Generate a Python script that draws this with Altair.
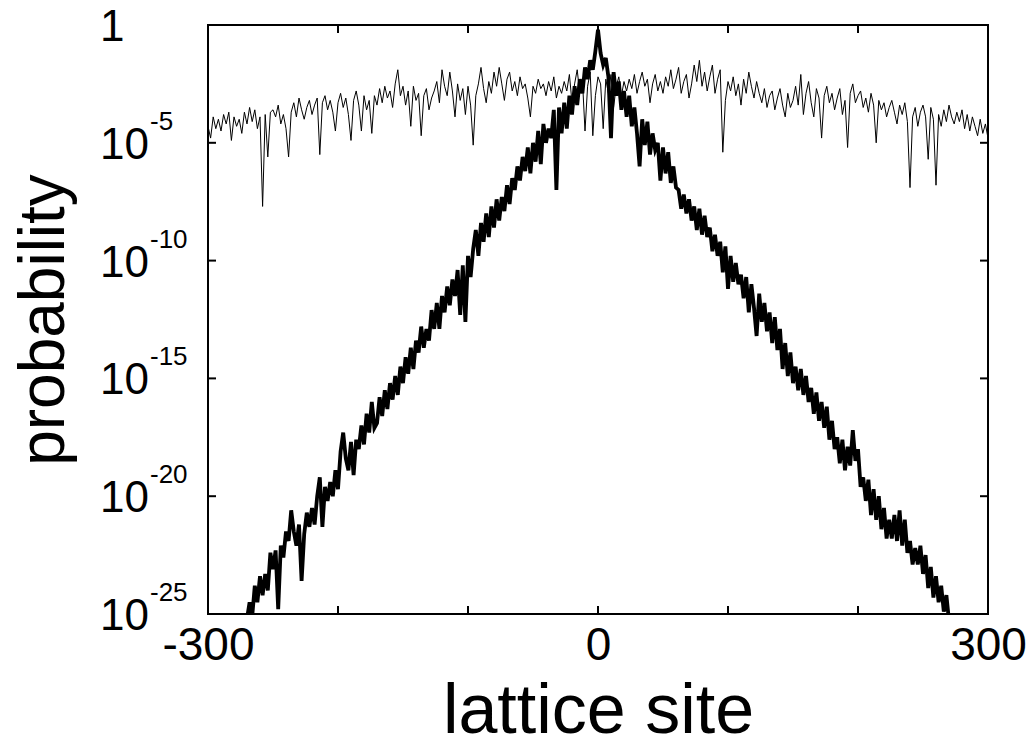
import altair as alt
import pandas as pd

# log10 of probability, thin curve (extended state), sites -300..300 step 2
thin_sites = list(range(-300, 301, 2))
thin_log = [
    -4.3, -4.8, -3.9, -4.4, -4.0, -4.5, -3.8, -4.2, -3.7, -4.9, -3.9, -4.3,
    -4.0, -4.6, -3.7, -4.2, -3.5, -4.1, -3.6, -4.4, -3.9, -7.7, -3.8, -5.6, -3.7,
    -3.6, -3.9, -3.4, -4.2, -3.8, -4.4, -5.6, -3.7, -3.3, -3.9, -3.1, -3.6, -4.0,
    -3.5, -3.2, -3.8, -3.4, -3.1, -5.5, -3.3, -3.0, -3.6, -3.2, -3.7, -4.5,
    -3.3, -2.9, -3.5, -3.1, -3.8, -4.9, -3.2, -2.8, -3.4, -4.5, -3.0, -3.6, -3.2,
    -4.6, -3.0, -3.4, -2.7, -3.3, -2.6, -3.1, -2.8, -3.5, -2.5, -1.9, -3.0, -2.6,
    -3.4, -2.8, -4.3, -2.6, -3.2, -2.9, -4.7, -3.0, -2.7, -3.6, -3.1, -2.8,
    -2.4, -3.3, -1.9, -2.6, -3.0, -2.0, -2.8, -3.9, -2.5, -3.2, -2.7, -3.8,
    -2.6, -3.4, -5.1, -3.0, -2.5, -1.8, -2.7, -3.3, -2.4, -2.9, -2.0, -2.6, -1.8,
    -2.5, -3.2, -2.3, -2.0, -2.8, -2.4, -3.0, -2.2, -2.7, -2.5, -3.1, -3.9,
    -2.6, -2.9, -2.3, -2.7, -2.5, -3.0, -2.4, -2.8, -2.2, -3.1, -2.6, -2.9, -2.4,
    -2.8, -2.1, -3.3, -2.5, -1.9, -2.9, -2.3, -4.5, -2.6, -2.0, -4.7, -3.0,
    -2.2,
    -2.5, -4.4, -2.3, -2.9, -2.1, -3.5, -2.6, -2.2, -3.0, -2.4, -2.8, -2.3,
    -2.7, -2.1, -2.9, -2.4, -2.0, -2.6, -2.3, -3.3, -2.5, -2.1, -2.8, -2.4, -2.9,
    -2.2, -2.6, -1.9, -2.7, -2.3, -1.8, -2.9, -2.4, -2.1, -3.1, -2.5, -1.7,
    -2.4, -1.5, -2.6, -2.0, -2.8, -2.2, -1.7, -2.9, -2.3, -1.9, -5.4, -3.2, -2.4,
    -2.8, -2.2, -3.0, -2.5, -3.4, -2.3, -2.9, -2.0, -2.6, -3.1, -2.4, -2.9,
    -3.3, -2.7, -3.5, -3.0, -2.8, -3.6, -3.1, -2.7, -3.4, -3.9, -2.9, -3.5, -3.2,
    -2.6, -3.4, -2.1, -3.8, -2.9, -2.4, -3.3, -3.9, -2.7, -3.1, -4.8, -3.0,
    -2.6, -3.3, -2.9, -3.6, -3.1, -2.7, -3.8, -3.2, -5.2, -2.9, -2.5, -3.3, -3.0,
    -2.8, -3.5, -3.1, -3.7, -2.9, -3.4, -5.0, -3.2, -3.6, -3.3, -3.9, -3.5,
    -3.2, -3.7, -4.2, -3.4, -3.8, -3.3, -4.1, -6.9, -3.9, -3.5, -4.3, -3.7, -3.4,
    -3.9, -5.7, -3.5, -4.0, -6.8, -3.8, -4.3, -3.6, -4.1, -3.4, -3.9, -4.2, -3.7,
    -4.1, -3.6, -4.4, -3.8, -4.5, -3.9, -4.3, -4.7, -4.0, -4.6, -4.2, -4.8,
]

# log10 of probability, thick curve (localized state), sites -274..274 step 2
thick_sites = list(range(-274, 275, 2))
thick_log = [
    -25.9, -25.6, -25.2, -24.5, -25.1, -23.8, -24.5, -23.4, -24.2, -23.3,
    -24.0, -22.4, -23.1, -22.3, -24.8, -22.1, -22.6, -21.5, -21.9, -20.6,
    -21.5, -22.1, -21.2, -23.6, -21.6, -20.7, -21.3, -20.5, -21.2, -20.0,
    -19.2, -21.3, -19.6, -20.2, -19.4, -20.0, -18.9, -19.7, -18.1, -17.3,
    -18.4, -18.9, -17.7, -19.1, -17.6, -18.0, -17.0, -17.8, -16.5, -17.3,
    -16.0, -17.1, -16.9, -15.8, -16.6, -15.5, -16.3, -15.2, -15.9, -14.9,
    -15.7, -14.5, -15.2, -14.1, -14.8, -13.7, -14.6, -13.4, -13.9, -12.8,
    -13.7, -12.9, -13.4, -12.1, -12.9, -11.8, -12.9, -11.5, -12.2, -11.1,
    -11.9, -10.8, -11.5, -10.4, -12.3, -10.2, -12.6, -9.8, -10.7, -9.5,
    -8.7, -9.8, -8.4, -9.2, -8.0, -9.0, -7.7, -8.6, -7.4, -8.3,
    -7.3, -7.9, -6.8, -7.6, -6.5, -7.0, -6.0, -6.6, -5.6, -6.2,
    -5.2, -6.3, -5.0, -5.8, -4.5, -5.9, -4.2, -5.0, -4.4, -4.8,
    -3.6, -7.0, -3.5, -4.6, -3.3, -4.4, -3.0, -3.8, -2.6, -3.4,
    -2.3, -2.9, -1.8, -2.3, -1.5, -1.9, -1.1, -0.2, -1.2, -1.7,
    -1.4, -2.2, -4.8, -2.0, -3.0, -2.4, -3.6, -2.8, -3.9, -3.0,
    -4.3, -3.5, -4.6, -6.0, -4.0, -5.1, -4.1, -5.5, -4.6, -5.3,
    -5.0, -6.6, -5.2, -6.3, -5.4, -6.7, -6.0, -6.9, -7.0, -7.8,
    -7.2, -8.0, -7.4, -8.3, -7.7, -8.7, -7.8, -8.9, -8.1, -9.0,
    -8.6, -9.6, -8.9, -9.8, -9.2, -10.5, -9.4, -11.2, -9.8, -10.9,
    -10.1, -11.0, -10.6, -11.6, -10.7, -12.2, -11.0, -12.0, -13.2, -11.4,
    -12.6, -11.8, -13.0, -12.2, -13.5, -12.4, -13.8, -12.9, -14.6, -13.5,
    -14.9, -13.9, -15.2, -14.5, -15.5, -14.6, -15.7, -14.9, -16.0, -15.4,
    -16.5, -15.6, -16.8, -16.0, -17.1, -16.2, -17.6, -16.8, -18.0, -17.5,
    -18.6, -17.6, -18.9, -17.9, -18.7, -17.2, -18.5, -18.0, -19.6, -19.2,
    -20.2, -19.3, -20.8, -19.7, -21.0, -20.0, -21.4, -20.5, -21.8, -21.0,
    -21.8, -20.8, -21.9, -20.6, -22.1, -21.0, -22.4, -21.9, -22.9, -22.2,
    -22.9, -22.1, -23.3, -22.5, -23.9, -23.0, -24.3, -23.4, -24.5, -23.8,
    -24.9, -24.2, -25.3, -25.3, -25.9,
]

x_label_values = [-300, 0, 300]
x_tick_values = [-200, -100, 0, 100, 200]
y_tick_values = [1e-5, 1e-10, 1e-15, 1e-20]
y_label_values = [1.0, 1e-5, 1e-10, 1e-15, 1e-20, 1e-25]
y_label_base = ["1", "10", "10", "10", "10", "10"]
y_label_exp = ["", "-5", "-10", "-15", "-20", "-25"]

FONT = "Liberation Sans"
W, H = 780, 589

df_thin = pd.DataFrame({"site": thin_sites, "p": [10 ** v for v in thin_log]})
df_thick = pd.DataFrame({"site": thick_sites, "p": [10 ** v for v in thick_log]})
df_xt = pd.DataFrame({"site": x_tick_values})
df_yt = pd.DataFrame({"p": y_tick_values})
df_yl = pd.DataFrame({"p": y_label_values, "base": y_label_base, "exp": y_label_exp})
df_ye = df_yl[df_yl["exp"] != ""]

xs = alt.Scale(domain=[-300, 300], nice=False, zero=False)
ys = alt.Scale(type="log", domain=[1e-25, 1], nice=False)

x_enc = alt.X(
    "site:Q", scale=xs,
    axis=alt.Axis(
        values=x_label_values, ticks=False, domain=False, grid=False,
        labelExpr="datum.value < 0 ? '-' + format(-datum.value, 'd') : format(datum.value, 'd')",
        labelFontSize=46, labelFont=FONT, labelColor="black", labelPadding=9,
        labelFlush=False, labelOverlap=False,
        title="lattice site", titleFont=FONT, titleFontSize=70,
        titleFontWeight="normal", titleColor="black", titlePadding=9,
    ),
)
y_enc = alt.Y(
    "p:Q", scale=ys,
    axis=alt.Axis(
        labels=False, ticks=False, domain=False, grid=False,
        title="probability", titleFont=FONT, titleFontSize=64,
        titleFontWeight="normal", titleColor="black", titlePadding=132,
    ),
)

thin = alt.Chart(df_thin).mark_line(color="black", strokeWidth=1, clip=True).encode(x=x_enc, y=y_enc)
thick = alt.Chart(df_thick).mark_line(color="black", strokeWidth=3.8, clip=True).encode(
    x=alt.X("site:Q", scale=xs), y=alt.Y("p:Q", scale=ys)
)

tb = alt.Chart(df_xt).mark_rule(color="black", strokeWidth=2).encode(
    x=alt.X("site:Q", scale=xs), y=alt.value(H), y2=alt.value(H - 8)
)
tt = alt.Chart(df_xt).mark_rule(color="black", strokeWidth=2).encode(
    x=alt.X("site:Q", scale=xs), y=alt.value(0), y2=alt.value(8)
)
tl = alt.Chart(df_yt).mark_rule(color="black", strokeWidth=2).encode(
    y=alt.Y("p:Q", scale=ys), x=alt.value(0), x2=alt.value(8)
)
tr = alt.Chart(df_yt).mark_rule(color="black", strokeWidth=2).encode(
    y=alt.Y("p:Q", scale=ys), x=alt.value(W), x2=alt.value(W - 8)
)

lab_base = alt.Chart(df_yl).mark_text(
    align="left", baseline="middle", font=FONT, fontSize=44, color="black", dy=3
).encode(y=alt.Y("p:Q", scale=ys), x=alt.value(-108), text="base:N")
lab_exp = alt.Chart(df_ye).mark_text(
    align="left", baseline="middle", font=FONT, fontSize=26, color="black", dy=-21
).encode(y=alt.Y("p:Q", scale=ys), x=alt.value(-58), text="exp:N")

chart = alt.layer(thin, thick, tb, tt, tl, tr, lab_base, lab_exp).properties(
    width=W, height=H,
    background="white",
    autosize=alt.AutoSizeParams(type="none"),
    padding={"left": 208, "top": 25, "right": 46, "bottom": 133},
).configure_view(stroke="black", strokeWidth=2)

chart.save("out.html", embed_options={"renderer": "svg", "actions": False})
